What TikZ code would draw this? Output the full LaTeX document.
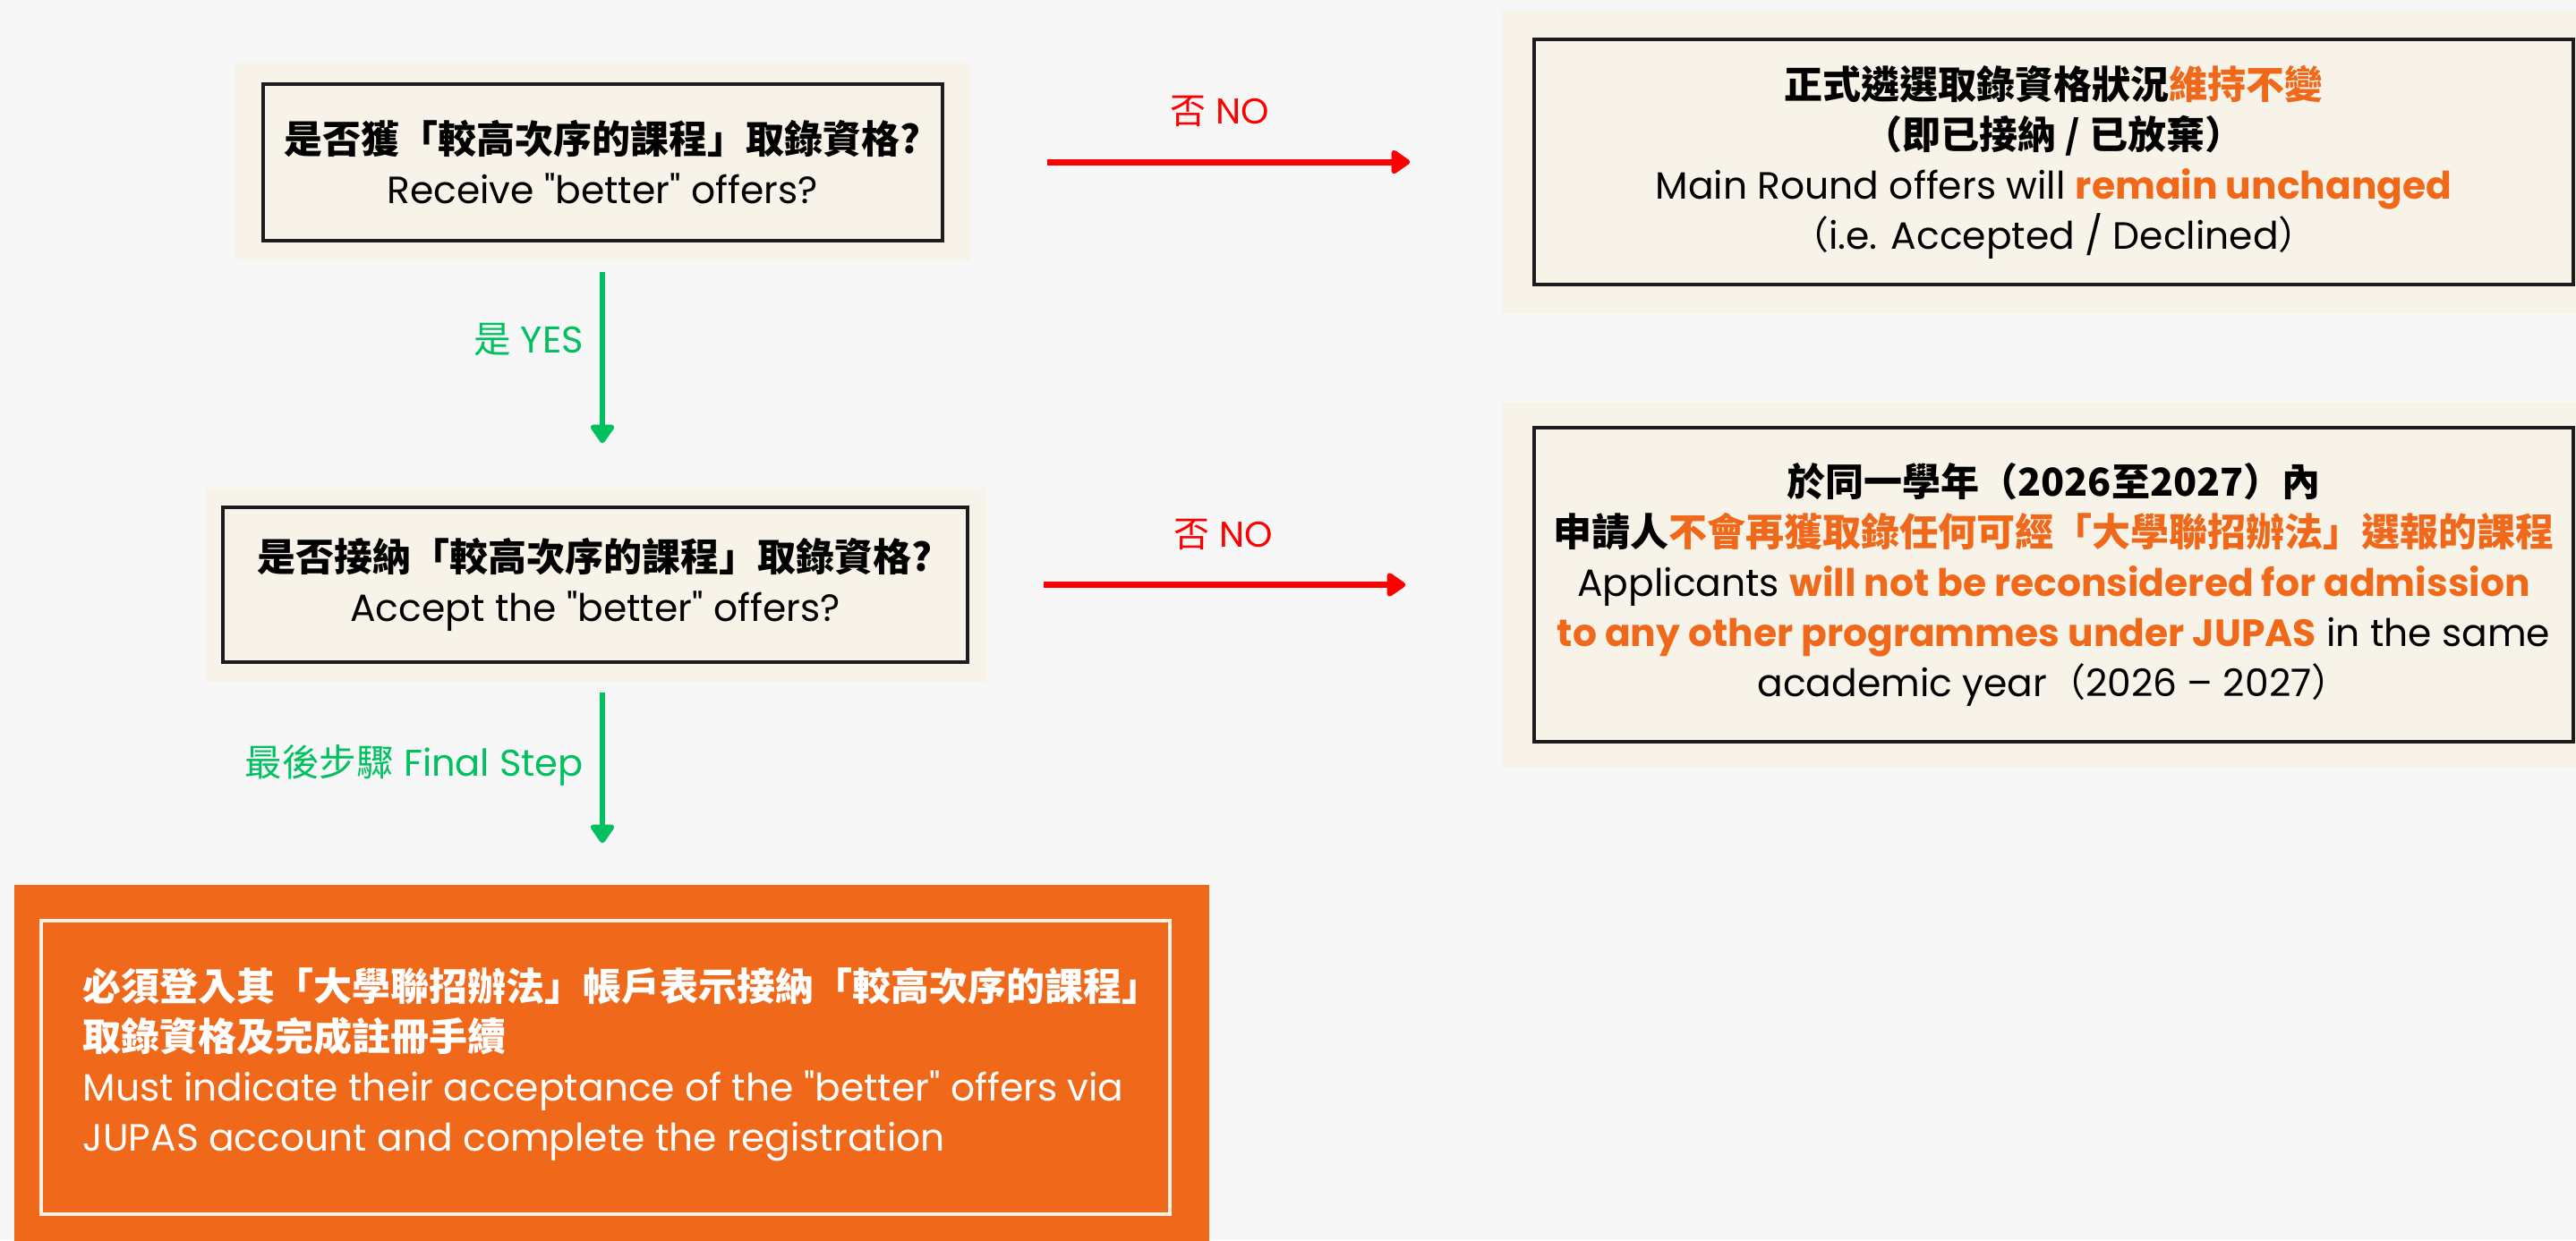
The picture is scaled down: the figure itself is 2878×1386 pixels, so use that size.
\documentclass[tikz,border=0pt]{standalone}
\usepackage{fontspec}
\setmainfont{Poppins}[Ligatures=TeXOff]
\newfontfamily\cjk{Noto Sans CJK TC}
\usetikzlibrary{arrows.meta}
\definecolor{pagegray}{HTML}{F7F7F7}
\definecolor{cream}{HTML}{F7F3E9}
\definecolor{jorange}{HTML}{F0691A}
\definecolor{jgreen}{HTML}{00C060}
\definecolor{jred}{HTML}{FF0000}
\definecolor{edge}{HTML}{1C1C1C}
\definecolor{paleline}{HTML}{FCF0E6}
\newcommand{\pxu}{0.25pt}
\newcommand{\zhbold}{\cjk\bfseries\fontsize{10.75pt}{14pt}\selectfont}
\newcommand{\zhreg}{\cjk\fontsize{10.75pt}{14pt}\selectfont}
\newcommand{\hilite}[1]{\textcolor{jorange}{\bfseries #1}}
\newcommand{\flowbox}[7]{
	\node [padbox, minimum width=#3*\pxu, minimum height=#4*\pxu] (#1bg) at (#2) {};
	\node [linebox, minimum width=#5*\pxu, minimum height=#6*\pxu] (#1) at (#2) {#7};}
\tikzset{
	padbox/.style={fill=cream, inner sep=0pt},
	linebox/.style={draw=edge, line width=1pt, fill=cream, inner sep=0pt, align=center, font=\fontsize{10.6pt}{14pt}\selectfont},
	noarrow/.style={->, draw=jred, line width=1.75pt},
	yesarrow/.style={->, draw=jgreen, line width=1.6pt},
	nolabel/.style={text=jred, inner sep=0pt, font=\fontsize{10pt}{12pt}\selectfont},
	yeslabel/.style={text=jgreen, inner sep=0pt, font=\fontsize{10.4pt}{12pt}\selectfont}
}

\begin{document}
\begin{tikzpicture}[>={Triangle[width=7.5pt,length=5.75pt,round]}, x=\pxu, y=-\pxu]
	\fill [pagegray] (0,0) rectangle (2878,1386);
	\useasboundingbox (0,0) rectangle (2878,1386);
	% questions
	\flowbox{q1}{673,181}{821}{220}{759}{175}{{\zhbold 是否獲「較高次序的課程」取錄資格?}\\ Receive "better" offers?}
	\flowbox{q2}{665,653.5}{873}{217}{832}{173}{{\zhbold 是否接納「較高次序的課程」取錄資格?}\\ Accept the "better" offers?}
	% results of no
	\flowbox{r1}{2294.5,181}{1233}{338}{1161}{274}{{\zhbold 正式遴選取錄資格狀況\textcolor{jorange}{維持不變}}\\
		{\zhbold （即已接納 / 已放棄）}\\
		Main Round offers will \hilite{remain unchanged}\\
		{\zhreg （}i.e. Accepted / Declined{\zhreg ）}}
	\flowbox{r2}{2294.5,653.5}{1233}{408}{1161}{351}{{\zhbold 於同一學年（2026至2027）內}\\
		{\zhbold 申請人\textcolor{jorange}{不會再獲取錄任何可經「大學聯招辦法」選報的課程}}\\
		Applicants \hilite{will not be reconsidered for admission}\\
		\hilite{to any other programmes under JUPAS} in the same\\
		academic year{\zhreg （}2026 – 2027{\zhreg ）}}
	% final step
	\node [fill=jorange, inner sep=0pt, minimum width=1335*\pxu, minimum height=408*\pxu] (finalbg) at (683.5,1193) {};
	\node [draw=paleline, line width=1pt, inner sep=0pt, minimum width=1261*\pxu, minimum height=328*\pxu] (final) at (676.5,1193) {};
	\node [anchor=west, inner sep=0pt, align=left, text=white, font=\fontsize{10.6pt}{14pt}\selectfont] (finaltxt) at (92,1190) {{\zhbold 必須登入其「大學聯招辦法」帳戶表示接納「較高次序的課程」}\\
		{\zhbold 取錄資格及完成註冊手續}\\
		Must indicate their acceptance of the "better" offers via\\
		JUPAS account and complete the registration};
	% connectors
	\draw [noarrow, shorten <=85.5*\pxu, shorten >=102*\pxu] (q1bg.east) -- node [nolabel, pos=0.47, yshift=14.25pt] {{\cjk 否} NO} (r1bg.west);
	\draw [noarrow, shorten <=63.5*\pxu, shorten >=107*\pxu] (q2bg.east) -- node [nolabel, pos=0.46, yshift=14pt] {{\cjk 否} NO} (r2bg.west);
	\draw [yesarrow, shorten <=33*\pxu, shorten >=49*\pxu] (q1.south) -- node [yeslabel, pos=0.4, anchor=east, xshift=-4.5pt] {{\cjk 是} YES} (q1.south |- q2bg.north);
	\draw [yesarrow, shorten <=11*\pxu, shorten >=46*\pxu] (q1.south |- q2bg.south) -- node [yeslabel, pos=0.41, anchor=east, xshift=-4.5pt] {{\cjk 最後步驟} Final Step} (q1.south |- finalbg.north);
\end{tikzpicture}
\end{document}
